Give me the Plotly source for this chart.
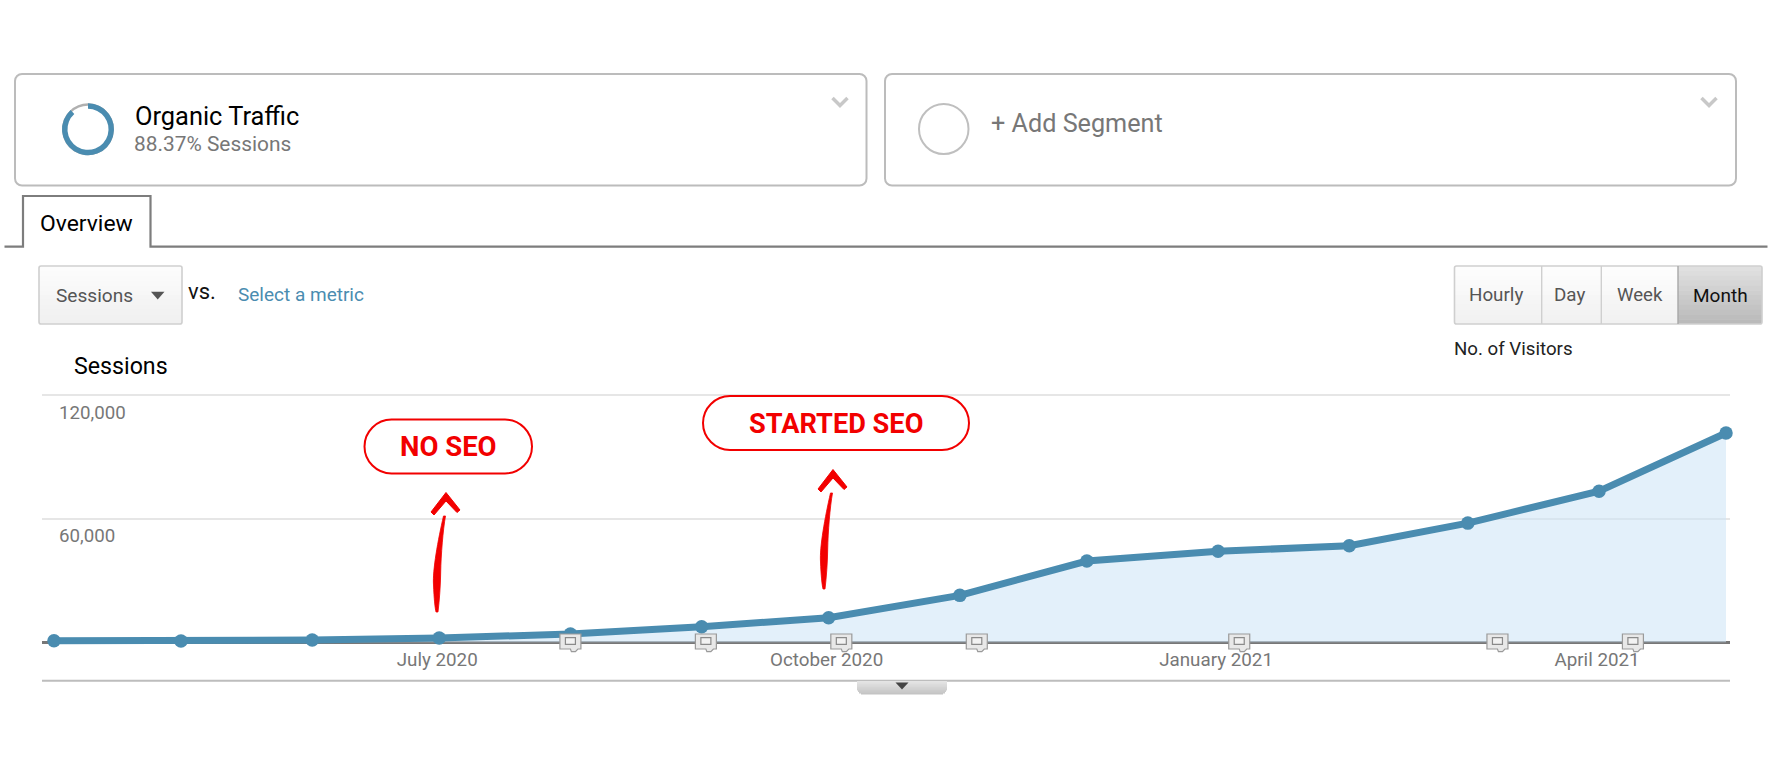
import plotly.graph_objects as go

W, H = 1772, 767

# ---- chart data ----
months = ["2020-04-01", "2020-05-01", "2020-06-01", "2020-07-01", "2020-08-01", "2020-09-01", "2020-10-01",
          "2020-11-01", "2020-12-01", "2021-01-01", "2021-02-01", "2021-03-01", "2021-04-01", "2021-05-01"]
sessions = [800, 650, 1100, 2100, 4000, 7600, 11900, 22800, 39500, 44200, 46900, 57900, 73400, 101700]
y_ticks = [0, 60000, 120000]
y_tick_labels = ["", "60,000", "120,000"]
x_ticks = ["2020-07-01", "2020-10-01", "2021-01-01", "2021-04-01"]
x_tick_labels = ["July 2020", "October 2020", "January 2021", "April 2021"]
event_dates = ["2020-08-01", "2020-09-02", "2020-10-04", "2020-11-05", "2021-01-06", "2021-03-08", "2021-04-09"]
segment_share = [88.37, 11.63]

BLUE = "#4a8cb0"
GREY = "#777777"
RED = "#f20000"
AXIS_Y = 642.3


def X(p):
    return p / W


def Y(p):
    return 1 - p / H


def path(cmds):
    """cmds: list of (letter, x, y, ...) in page pixels -> paper-coordinate SVG path"""
    out = []
    for c in cmds:
        out.append(c[0])
        v = c[1:]
        out.append(" ".join(f"{X(v[i]):.5f},{Y(v[i+1]):.5f}" for i in range(0, len(v), 2)))
    return " ".join(out)


def rrect(x0, y0, x1, y1, r):
    k = r * 0.45
    return path([("M", x0 + r, y0), ("L", x1 - r, y0), ("C", x1 - k, y0, x1, y0 + k, x1, y0 + r), ("L", x1, y1 - r),
                 ("C", x1, y1 - k, x1 - k, y1, x1 - r, y1), ("L", x0 + r, y1),
                 ("C", x0 + k, y1, x0, y1 - k, x0, y1 - r), ("L", x0, y0 + r),
                 ("C", x0, y0 + k, x0 + k, y0, x0 + r, y0)]) + " Z"


shapes = []


def add_path(d, color=None, fill=None, width=2, layer="above"):
    shapes.append(dict(type="path", xref="paper", yref="paper", path=d, layer=layer,
                       fillcolor=fill or "rgba(0,0,0,0)",
                       line=dict(color=color or "rgba(0,0,0,0)", width=width if color else 0)))


def gradient(x0, y0, x1, y1, top, bottom, steps=12, insets=()):
    for i in range(steps):
        t = i / (steps - 1)
        c = tuple(round(a + (b - a) * t) for a, b in zip(top, bottom))
        ya = y0 + (y1 - y0) * i / steps
        yb = y0 + (y1 - y0) * (i + 1) / steps + (0.5 if i < steps - 1 else 0)
        back = steps - 1 - i
        inset = insets[back] if back < len(insets) else 0
        shapes.append(dict(type="rect", xref="paper", yref="paper", x0=X(x0 + inset), x1=X(x1 - inset),
                           y0=Y(ya), y1=Y(yb), fillcolor=f"rgb{c}", line=dict(width=0), layer="below"))


def red_arrow(dx, dy):
    def o(*v):
        return tuple(v[i] + (dx if i % 2 == 0 else dy) for i in range(len(v)))
    add_path(path([("M", *o(443.5, 516)), ("C", *o(438, 540, 432.5, 570, 433.5, 585)),
                   ("C", *o(434, 598, 435, 608, 436, 612)), ("L", *o(438, 612)),
                   ("C", *o(439.5, 600, 440.5, 585, 440.7, 572)), ("C", *o(441, 555, 443, 530, 445.5, 516))]) + " Z",
             RED, RED, 0.8)
    add_path(path([("M", *o(431, 512)), ("L", *o(446, 492.5)), ("L", *o(460, 510)), ("L", *o(457, 512.5)),
                   ("L", *o(446, 501)), ("L", *o(434, 515))]) + " Z", RED, RED, 1)


# segment cards
add_path(rrect(15, 74, 866.5, 185.5, 7), "#bcbcbc", "#ffffff", 2, layer="below")
add_path(rrect(885, 74, 1736, 185.5, 7), "#bcbcbc", "#ffffff", 2, layer="below")
for cx in (840, 1709):
    add_path(path([("M", cx - 7.5, 98), ("L", cx, 105.5), ("L", cx + 7.5, 98)]), "#c8c8c8", None, 3.5)
shapes.append(dict(type="circle", xref="paper", yref="paper", x0=X(919), x1=X(968.5), y0=Y(104), y1=Y(154),
                   line=dict(color="#bfbfbf", width=2)))

# tab + rule
add_path(path([("M", 4.5, 246.7), ("L", 23, 246.7), ("L", 23, 196), ("L", 150.5, 196), ("L", 150.5, 246.7),
               ("L", 1767.5, 246.7)]), "#7d7d7d", None, 2.2)

# dropdown
gradient(39, 266, 182, 324, (252, 252, 252), (240, 240, 240))
add_path(rrect(39, 266, 182, 324, 2), "#cfcfcf", None, 1.6)
add_path(path([("M", 151, 291.7), ("L", 164.5, 291.7), ("L", 157.7, 299.5)]) + " Z", None, "#555555")

# interval buttons
gradient(1454, 266, 1678, 324, (253, 253, 253), (241, 241, 241))
gradient(1678, 266, 1762, 324, (224, 224, 224), (186, 186, 186))
add_path(rrect(1454.5, 266, 1762, 324, 2), "#cfcfcf", None, 1.6)
for dx, col in ((1541.7, "#cfcfcf"), (1601.3, "#cfcfcf"), (1678, "#a8a8a8")):
    add_path(path([("M", dx, 266), ("L", dx, 324)]), col, None, 1.4)

# line beneath the plot and collapse handle
add_path(path([("M", 42, 680.7), ("L", 1730, 680.7)]), "#bdbdbd", None, 2, layer="below")
gradient(857, 681, 947, 694.5, (228, 228, 228), (196, 196, 196), steps=9, insets=(4, 2, 1))
add_path(path([("M", 895.5, 682.5), ("L", 908.5, 682.5), ("L", 902, 689.5)]) + " Z", None, "#444444")

# callouts
add_path(rrect(364.5, 419.5, 532, 473.5, 27), RED, "#ffffff", 2)
add_path(rrect(703, 396, 969, 450, 27), RED, "#ffffff", 2)
red_arrow(0, 0)
red_arrow(387, -23)

# event flags sitting on the time axis
for d in event_dates:
    shapes.append(dict(type="path", xref="x", yref="paper", xsizemode="pixel", ysizemode="pixel",
                       xanchor=d, yanchor=Y(AXIS_Y), layer="above",
                       path="M -10.5,8.3 L 10.5,8.3 L 10.5,-6.7 L 7.5,-6.7 L 5,-9.4 L 1,-9.4 L 0,-6.7 L -10.5,-6.7 Z",
                       fillcolor="#e8e8e8", line=dict(color="#9a9a9a", width=1.2)))
    shapes.append(dict(type="path", xref="x", yref="paper", xsizemode="pixel", ysizemode="pixel",
                       xanchor=d, yanchor=Y(AXIS_Y), layer="above",
                       path="M -5,4.6 L 5,4.6 L 5,-2 L -5,-2 Z",
                       fillcolor="#f2f2f2", line=dict(color="#8a8a8a", width=1.2)))

annotations = []


def text(s, x, y, size, color="#000000", anchor="left", family="Roboto", bold=False):
    t = f"<b>{s}</b>" if bold else s
    annotations.append(dict(text=t, x=X(x), y=Y(y), xref="paper", yref="paper", xanchor=anchor, yanchor="middle",
                            showarrow=False, borderpad=0,
                            font=dict(size=size, color=color, family=family)))


text("Organic Traffic", 133.5, 115.5, 25.4)
text("88.37% Sessions", 132.5, 144, 20.9, GREY)
text("+ Add Segment", 989.5, 123.5, 25.2, GREY)
text("Overview", 86, 223, 22.9, anchor="center")
text("Sessions", 54.5, 295, 19.1, "#555555")
text("vs.", 186.5, 291, 22, "#111111")
text("Select a metric", 236.5, 294.7, 19, BLUE)
text("Sessions", 72.5, 366, 23.2)
text("Hourly", 1495.7, 295, 18.8, "#555555", "center")
text("Day", 1569.5, 295, 18.8, "#555555", "center")
text("Week", 1640, 295, 18.6, "#555555", "center")
text("Month", 1720, 295, 19, "#111111", "center")
text("No. of Visitors", 1452.8, 349, 18.7, "#222222")
text("NO SEO", 448, 446, 27.5, RED, "center", bold=True)
text("STARTED SEO", 836, 424, 27.2, RED, "center", bold=True)

fig = go.Figure()
fig.add_trace(go.Scatter(x=months, y=sessions, mode="lines+markers", fill="tozeroy",
                         fillcolor="rgba(205,228,246,0.56)", cliponaxis=False,
                         line=dict(color=BLUE, width=7), marker=dict(color=BLUE, size=13.5),
                         hoverinfo="x+y", showlegend=False))
# segment ring
fig.add_trace(go.Pie(values=[1], hole=0.91, sort=False, textinfo="none", showlegend=False, hoverinfo="skip",
                     marker=dict(colors=["#b0b0b0"], line=dict(width=0)),
                     domain=dict(x=[X(62), X(114)], y=[Y(155.3), Y(103.3)])))
fig.add_trace(go.Pie(values=segment_share, hole=0.79, sort=False, direction="clockwise", rotation=0,
                     textinfo="none", showlegend=False, hoverinfo="skip",
                     marker=dict(colors=[BLUE, "rgba(0,0,0,0)"], line=dict(width=0)),
                     domain=dict(x=[X(62), X(114)], y=[Y(155.3), Y(103.3)])))

fig.update_layout(
    width=W, height=H, autosize=False, margin=dict(l=0, r=0, t=0, b=0),
    paper_bgcolor="#ffffff", plot_bgcolor="rgba(0,0,0,0)", showlegend=False,
    shapes=shapes, annotations=annotations,
    xaxis=dict(domain=[X(42), X(1730)], type="date", range=["2020-03-29 04:00", "2021-05-01 22:30"],
               tickmode="array", tickvals=x_ticks, ticktext=x_tick_labels, ticks="", showgrid=False,
               zeroline=False, showline=False, layer="below traces",
               ticklabelshift=-2,
               tickfont=dict(family="Roboto", size=18.8, color=GREY)),
    yaxis=dict(domain=[Y(646.42), Y(385.3)], range=[-2000, 124858], tickmode="array", tickvals=y_ticks,
               ticktext=y_tick_labels, ticks="", showgrid=True, gridcolor="#e6e6e6", gridwidth=2,
               zeroline=True, zerolinecolor=GREY, zerolinewidth=3, showline=False,
               ticklabelposition="inside", ticklabelstandoff=14,
               ticklabelshift=17, layer="below traces",
               tickfont=dict(family="Roboto", size=18.7, color=GREY)),
)

fig.write_html("out.html", config=dict(displayModeBar=False),
               post_script="document.body.style.margin='0';document.body.style.overflow='hidden';")
